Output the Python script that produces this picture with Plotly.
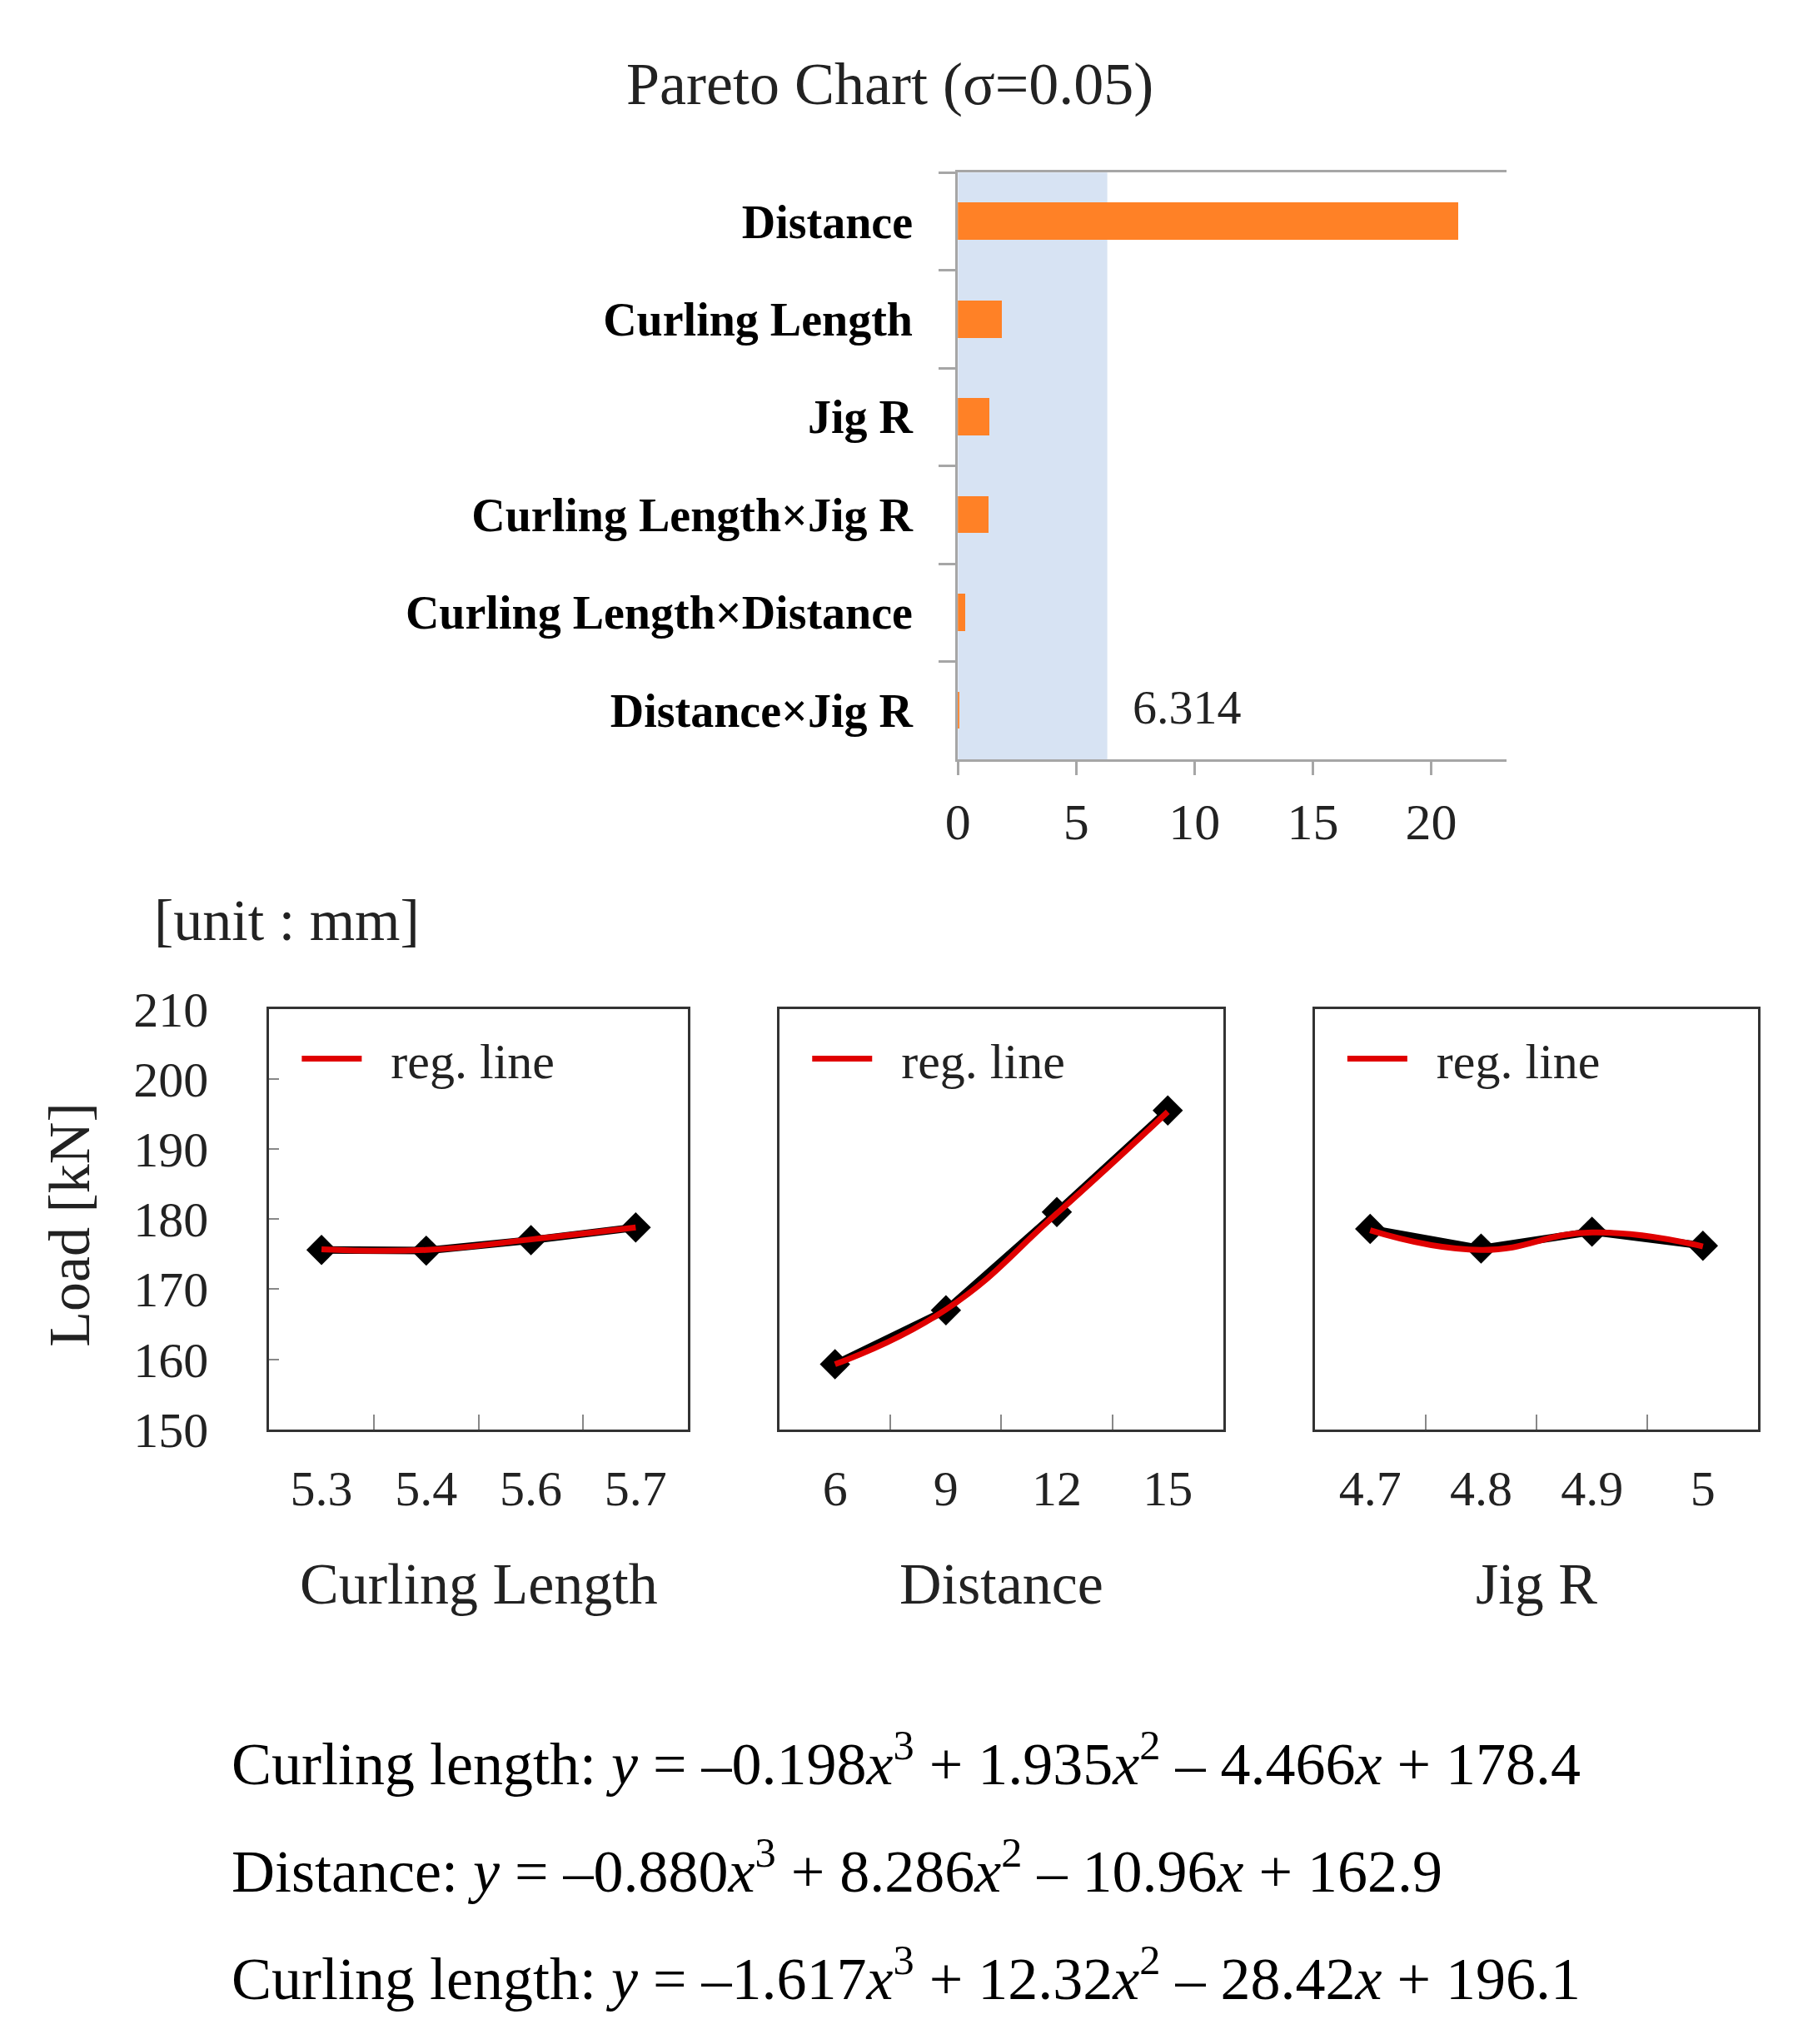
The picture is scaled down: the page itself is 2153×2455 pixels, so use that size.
import plotly.graph_objects as go

# ========== 数据 ==========
# Pareto chart (t value, sigma=0.05)
pareto_factors = ['Distance', 'Curling Length', 'Jig R',
                  'Curling Length×Jig R', 'Curling Length×Distance', 'Distance×Jig R']
pareto_values = [21.15, 1.85, 1.35, 1.3, 0.32, 0.05]
t_critical = 6.314

# main effect plots
curling_levels = ['5.3', '5.4', '5.6', '5.7']
curling_load = [175.6, 175.5, 177.0, 178.8]
curling_reg = [175.7, 175.6, 177.1, 178.8]

distance_levels = ['6', '9', '12', '15']
distance_load = [159.3, 167.0, 181.0, 195.5]
distance_reg = [159.3, 167.1, 180.8, 195.3]

jig_levels = ['4.7', '4.8', '4.9', '5']
jig_load = [178.6, 175.8, 178.2, 176.2]
jig_reg = [178.4, 175.6, 178.1, 176.1]

# regression equations (coefficients of x^3, x^2, x, const)
eq_names = ['Curling length', 'Distance', 'Curling length']
eq_coefs = [[-0.198, 1.935, -4.466, 178.4],
            [-0.880, 8.286, -10.96, 162.9],
            [-1.617, 12.32, -28.42, 196.1]]

FONT = 'Liberation Serif'
ORANGE = '#FF8126'
BAND = '#D7E3F3'
GRAY = '#A6A6A6'

fig = go.Figure()

# ========== Pareto 图 ==========
fig.add_trace(go.Bar(x=pareto_values, y=pareto_factors, orientation='h',
                     marker=dict(color=ORANGE, line=dict(width=0)), width=0.38,
                     showlegend=False, xaxis='x', yaxis='y'))
fig.add_shape(type='rect', xref='x', yref='y domain', x0=0, x1=t_critical, y0=0, y1=1,
              fillcolor=BAND, line=dict(width=0), layer='below')
fig.add_annotation(x=t_critical, y=pareto_factors[-1], xref='x', yref='y', text=f'{t_critical}',
                   xanchor='left', yanchor='middle', xshift=28, yshift=4, showarrow=False,
                   font=dict(family=FONT, size=58, color='#222'))

# ========== 主效应图 ==========
panels = [(curling_levels, curling_load, curling_reg, 'x2', 'y2', 'legend'),
          (distance_levels, distance_load, distance_reg, 'x3', 'y3', 'legend2'),
          (jig_levels, jig_load, jig_reg, 'x4', 'y4', 'legend3')]
for lv, load, reg, xa, ya, lg in panels:
    fig.add_trace(go.Scatter(x=lv, y=load, mode='lines+markers', xaxis=xa, yaxis=ya,
                             line=dict(color='black', width=9),
                             marker=dict(symbol='diamond', size=28, color='black'),
                             showlegend=False))
    fig.add_trace(go.Scatter(x=lv, y=reg, mode='lines', xaxis=xa, yaxis=ya,
                             name='\u00a0\u00a0reg. line',
                             line=dict(color='#E00000', width=7, shape='spline', smoothing=1.3),
                             legend=lg))

panel_x = [(0.140, 0.3754), (0.4268, 0.6761), (0.7275, 0.9768)]
panel_y = (0.2981, 0.5096)

layout = dict(
    width=2153, height=2455,
    margin=dict(l=0, r=0, t=0, b=0),
    paper_bgcolor='white', plot_bgcolor='white',
    font=dict(family=FONT, color='black'),
    bargap=0,
    xaxis=dict(domain=[0.527, 0.8355], range=[0, 23.2], tickvals=[0, 5, 10, 15, 20],
               showline=True, linecolor=GRAY, linewidth=3, mirror=True,
               ticks='outside', ticklen=16, tickwidth=3, tickcolor=GRAY,
               ticklabelstandoff=3, showgrid=False, zeroline=False,
               tickfont=dict(family=FONT, size=62, color='#222')),
    yaxis=dict(domain=[0.635, 0.930], anchor='x', autorange='reversed', type='category',
               showline=True, linecolor=GRAY, linewidth=3,
               ticks='outside', tickson='boundaries', ticklen=20, tickwidth=3, tickcolor=GRAY,
               ticklabelstandoff=40, showgrid=False,
               tickfont=dict(family=FONT, size=56, color='black', weight='bold')),
)

for i, (dx, (lv, load, reg, xa, ya, lg)) in enumerate(zip(panel_x, panels)):
    xk = 'xaxis' + xa[1:]
    yk = 'yaxis' + ya[1:]
    layout[xk] = dict(domain=list(dx), anchor=ya, type='category', range=[-0.5, 3.5],
                      showline=True, linecolor='#333', linewidth=3, mirror=True,
                      ticks='inside', tickson='boundaries', ticklen=18, tickwidth=2,
                      tickcolor='#888', ticklabelstandoff=16, showgrid=False,
                      tickfont=dict(family=FONT, size=60, color='#222'))
    layout[yk] = dict(domain=list(panel_y), anchor=xa, range=[150, 210], dtick=10,
                      showline=True, linecolor='#333', linewidth=3, mirror=True,
                      showgrid=False, zeroline=False,
                      ticks='inside' if i == 0 else '', ticklen=12, tickwidth=2, tickcolor='#888',
                      showticklabels=(i == 0), ticklabelstandoff=58,
                      tickfont=dict(family=FONT, size=60, color='#222'))
    layout[lg] = dict(x=dx[0] + 0.016, y=panel_y[1] - 0.006, xanchor='left', yanchor='top',
                      itemwidth=72, bgcolor='rgba(0,0,0,0)',
                      font=dict(family=FONT, size=60, color='#222'))

fig.update_layout(**layout)

# ========== 文字 ==========
fig.add_annotation(x=0.489, y=0.9745, xref='paper', yref='paper', text='Pareto Chart (σ=0.05)',
                   xanchor='center', yanchor='middle', showarrow=False,
                   font=dict(family=FONT, size=72, color='#222'))
fig.add_annotation(x=0.0746, y=0.554, xref='paper', yref='paper', text='[unit : mm]',
                   xanchor='left', yanchor='middle', showarrow=False,
                   font=dict(family=FONT, size=70, color='#222'))
fig.add_annotation(x=0.0275, y=0.401, xref='paper', yref='paper', text='Load [kN]', textangle=-90,
                   xanchor='center', yanchor='middle', showarrow=False,
                   font=dict(family=FONT, size=70, color='#222'))
for dx, name in zip(panel_x, ['Curling Length', 'Distance', 'Jig R']):
    fig.add_annotation(x=(dx[0] + dx[1]) / 2, y=0.2204, xref='paper', yref='paper', text=name,
                       xanchor='center', yanchor='middle', showarrow=False,
                       font=dict(family=FONT, size=70, color='#222'))


def fmt_eq(name, c):
    def sgn(v, first=False):
        if first:
            return '–' if v < 0 else ''
        return ' – ' if v < 0 else ' + '
    return (f'{name}: <i>y</i> = {sgn(c[0], True)}{abs(c[0]):.3f}<i>x</i><sup>3</sup>'
            f'{sgn(c[1])}{abs(c[1]):g}<i>x</i><sup>2</sup>'
            f'{sgn(c[2])}{abs(c[2]):g}<i>x</i>{sgn(c[3])}{abs(c[3]):g}')


for k, (name, c) in enumerate(zip(eq_names, eq_coefs)):
    fig.add_annotation(x=0.118, y=[0.132, 0.078, 0.024][k], xref='paper', yref='paper',
                       text=fmt_eq(name, c), xanchor='left', yanchor='middle', showarrow=False,
                       font=dict(family=FONT, size=72, color='black'))

fig.write_html('out.html')
